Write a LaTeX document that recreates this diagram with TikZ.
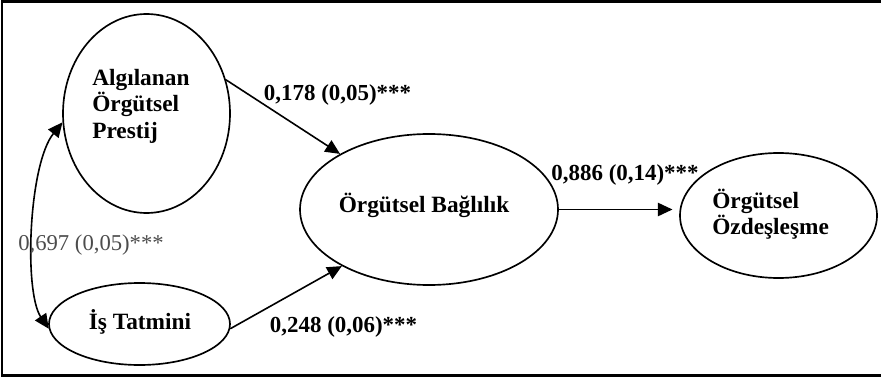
\documentclass[tikz,border=0pt]{standalone}
\usepackage{fontspec}
\setmainfont{Liberation Serif}
\usetikzlibrary{arrows.meta,calc,shapes.geometric}
\begin{document}
\begin{tikzpicture}[x=0.75pt,y=0.75pt,
  lat/.style={draw,ellipse,line width=1.25pt,inner sep=0pt},
  txt/.style={inner sep=0pt,font=\fontsize{17.5}{19.8}\selectfont\bfseries},
  coef/.style={inner sep=0pt,font=\fontsize{17.2}{19.5}\selectfont\bfseries},
  coefg/.style={inner sep=0pt,text=black!70,font=\fontsize{17}{19.5}\selectfont},
  path/.style={line width=1.2pt,-{Triangle[length=11pt,width=10pt]}},
  cov/.style={line width=1.2pt,{Triangle[length=11pt,width=10pt]}-{Triangle[length=11pt,width=10pt]}}
]
\useasboundingbox (0,0) rectangle (881,-381);
% frame
\draw[line width=1.6pt] (884,-1.5) -- (2,-1.5) -- (2,-375.5) -- (884,-375.5);
% latent variables
\node[lat,minimum width=125.25pt,minimum height=149.25pt] (A) at (146.5,-113.5) {};
\node[lat,minimum width=135.75pt,minimum height=61.5pt] (I) at (139.5,-324) {};
\node[lat,minimum width=193.5pt,minimum height=113.25pt] (B) at (429,-209.5) {};
\node[lat,minimum width=147.75pt,minimum height=93.75pt] (O) at (778.5,-215.5) {};
% texts
\node[txt,align=left,anchor=west] (At) at (92,-106) {Algılanan\\Örgütsel\\Prestij};
\node[txt] (It) at (140,-322) {İş Tatmini};
\node[txt] (Bt) at (424,-205) {Örgütsel Bağlılık};
\node[txt,align=left,anchor=west] (Ot) at (712,-214) {Örgütsel\\Özdeşleşme};
% paths
\draw[path] (A.23) -- (B.148);
\draw[path] (I.-3) -- (B.213);
\draw[path,shorten >=5pt] (B.east) -- (B.east -| O.west);
\draw[cov] (A.186) .. controls ($(A.186)+(-34,-42)$) and ($(I.183)+(-25,37)$) .. (I.183);
% coefficients
\node[coef] (c1) at (337.5,-95) {0,178 (0,05)***};
\node[coef] (c2) at (343.5,-327) {0,248 (0,06)***};
\node[coef] (c3) at (625,-175) {0,886 (0,14)***};
\node[coefg] (c4) at (91,-245) {0,697 (0,05)***};
\end{tikzpicture}
\end{document}
